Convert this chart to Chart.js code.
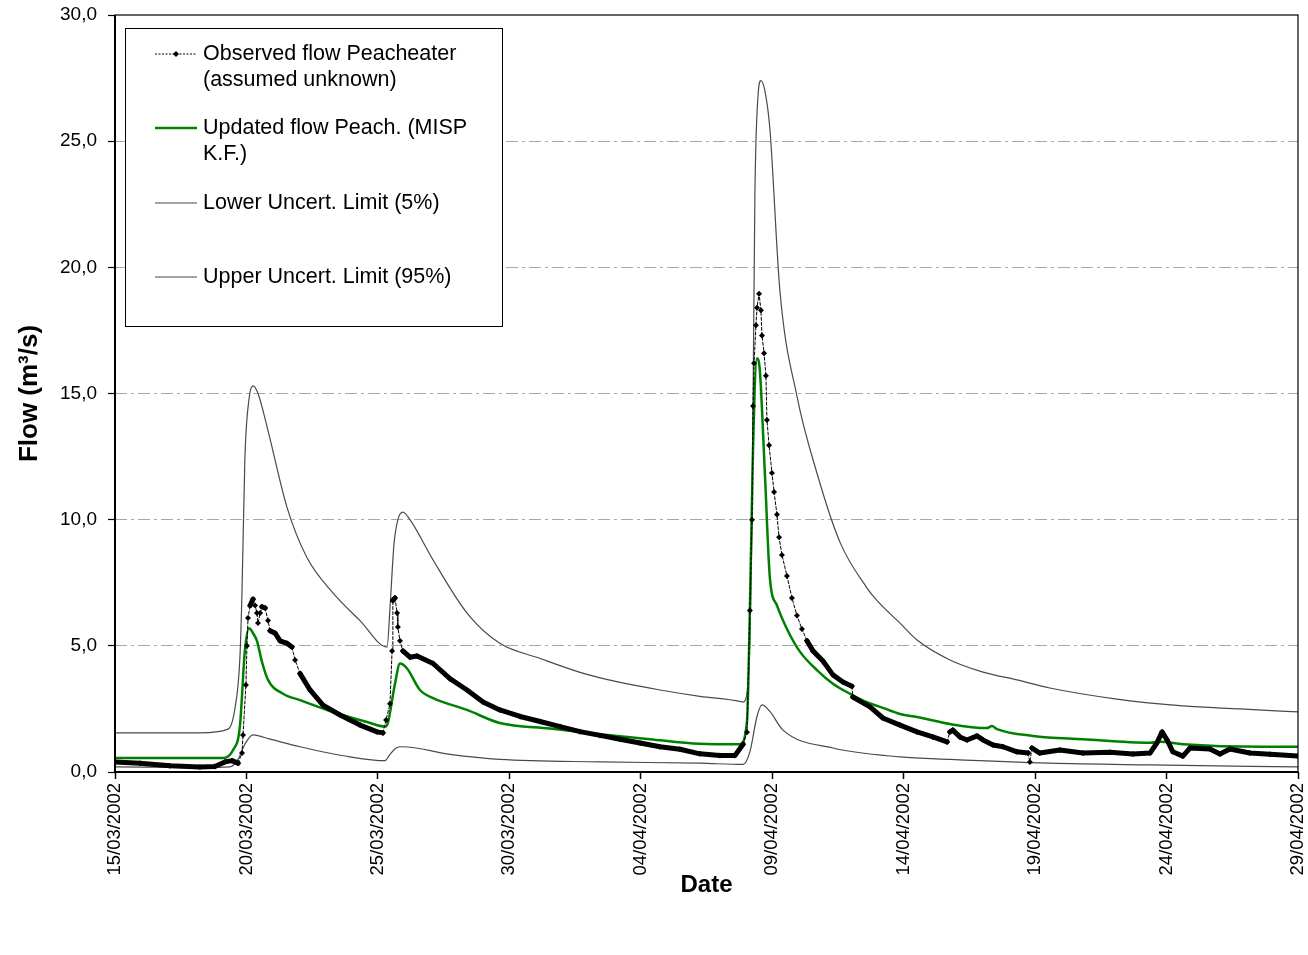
<!DOCTYPE html>
<html><head><meta charset="utf-8">
<script src="https://cdn.jsdelivr.net/npm/chart.js@4.4.1/dist/chart.umd.min.js"></script>
<style>html,body{margin:0;padding:0;background:#fff}#wrap{width:1308px;height:955px;position:relative}</style>
</head><body><div id="wrap"><canvas id="c" width="1308" height="955"></canvas></div>
<script>
// X axis: days since 15/03/2002
const xTickDays = [0,5,10,15,20,25,30,35,40,45];
const xTickLabels = ['15/03/2002','20/03/2002','25/03/2002','30/03/2002','04/04/2002','09/04/2002','14/04/2002','19/04/2002','24/04/2002','29/04/2002'];
const yTickLabels = ['0,0','5,0','10,0','15,0','20,0','25,0','30,0'];

const seriesLabels = ['Observed flow Peacheater\n(assumed unknown)','Updated flow Peach. (MISP\nK.F.)','Lower Uncert. Limit (5%)','Upper Uncert. Limit (95%)'];

const obsDays = [0,0.95,2.09,3.23,3.80,4.18,4.45,4.68,4.83,4.87,4.98,5.02,5.06,5.14,5.25,5.33,5.40,5.44,5.52,5.59,5.71,5.82,5.90,6.09,6.28,6.54,6.73,6.85,7.04,7.42,7.91,8.56,9.32,9.97,10.19,10.31,10.46,10.54,10.57,10.65,10.73,10.76,10.84,10.95,11.22,11.49,12.10,12.74,13.39,14.00,14.64,15.41,16.17,16.93,17.69,18.45,19.21,19.97,20.73,21.49,22.25,23.01,23.58,23.89,24.04,24.15,24.23,24.27,24.31,24.38,24.42,24.50,24.57,24.61,24.69,24.76,24.80,24.88,24.99,25.07,25.18,25.26,25.37,25.56,25.75,25.94,26.13,26.32,26.55,26.93,27.31,27.69,28.03,28.07,28.72,29.21,29.86,30.51,31.11,31.65,31.76,31.87,32.14,32.41,32.79,33.02,33.40,33.78,34.31,34.73,34.80,34.88,35.18,35.94,36.82,37.85,38.72,39.37,39.63,39.83,40.02,40.24,40.62,40.89,41.65,42.03,42.41,43.17,43.93,45];
const obsFlow = [0.40,0.35,0.25,0.20,0.22,0.40,0.45,0.35,0.75,1.47,3.45,5.00,6.10,6.60,6.85,6.60,6.30,5.90,6.30,6.55,6.50,6.00,5.60,5.50,5.20,5.10,4.95,4.44,3.90,3.25,2.65,2.26,1.86,1.59,1.55,2.06,2.70,4.80,6.80,6.90,6.30,5.75,5.20,4.80,4.55,4.60,4.30,3.70,3.25,2.77,2.46,2.20,2.00,1.80,1.60,1.45,1.30,1.15,1.00,0.90,0.72,0.65,0.65,1.10,1.58,6.40,10.0,14.5,16.2,17.7,18.4,18.95,18.3,17.3,16.6,15.7,13.95,12.95,11.85,11.1,10.2,9.3,8.6,7.77,6.9,6.2,5.67,5.2,4.8,4.4,3.85,3.57,3.40,2.97,2.58,2.14,1.86,1.59,1.39,1.19,1.59,1.66,1.39,1.27,1.43,1.27,1.07,1.00,0.80,0.75,0.40,0.95,0.75,0.87,0.75,0.78,0.71,0.75,1.15,1.59,1.27,0.80,0.63,0.95,0.91,0.71,0.91,0.75,0.70,0.63];

const updDays = [0,4.11,4.49,4.75,4.94,5.10,5.25,5.40,5.59,5.82,6.39,7.04,8.29,9.59,10.27,10.38,10.65,10.84,11.11,11.60,12.10,13.39,14.64,16.55,18.45,20.35,22.25,23.77,24.04,24.15,24.27,24.42,24.53,24.72,24.91,25.18,25.56,26.06,26.70,27.31,27.96,28.60,29.21,29.86,30.51,31.76,33.17,33.36,33.55,34.92,36.82,39.37,39.75,40.62,43.67,45];
const updFlow = [0.55,0.55,0.87,1.80,4.80,5.70,5.50,5.20,4.37,3.65,3.10,2.85,2.38,1.98,1.80,1.95,3.50,4.30,4.10,3.25,2.93,2.46,1.94,1.72,1.50,1.30,1.12,1.10,2.00,6.40,12.8,16.4,15.9,11.85,7.7,6.6,5.67,4.76,4.04,3.50,3.10,2.77,2.54,2.30,2.18,1.90,1.74,1.82,1.70,1.43,1.30,1.16,1.20,1.10,1.00,1.00];

const lowDays = [0,3.23,4.37,4.68,4.94,5.25,5.90,7.04,8.94,10.27,10.46,10.69,10.92,12.74,14.64,18.45,22.25,23.89,24.15,24.42,24.61,24.91,25.41,27.31,29.86,31.76,35.56,39.37,45];
const lowFlow = [0.20,0.18,0.20,0.50,1.10,1.47,1.30,1.00,0.60,0.45,0.70,0.95,1.00,0.70,0.50,0.40,0.35,0.30,0.80,2.20,2.66,2.40,1.66,0.95,0.60,0.50,0.35,0.28,0.20];

const uppDays = [0,3.23,4.30,4.56,4.75,4.83,4.94,5.10,5.25,5.44,5.78,6.54,7.30,8.29,9.32,10.35,10.46,10.61,10.76,10.95,11.22,12.10,13.39,14.64,16.17,17.69,19.21,20.73,22.25,23.77,23.89,24.08,24.23,24.34,24.46,24.57,24.72,24.91,25.29,25.94,26.70,27.58,28.60,28.98,29.86,30.51,31.76,33.02,34.31,35.56,38.11,40.62,42.79,45];
const uppFlow = [1.55,1.55,1.70,2.50,4.50,7.10,12.4,14.8,15.3,15.0,13.7,10.5,8.5,7.1,6.0,4.95,6.5,9.0,10.0,10.3,10.0,8.4,6.3,5.1,4.5,3.95,3.55,3.25,3.0,2.8,2.77,3.5,10.0,22.8,26.8,27.4,27.0,25.5,19.1,14.9,11.85,9.1,7.3,6.8,5.9,5.23,4.44,3.96,3.65,3.33,2.89,2.62,2.50,2.38];

const zip = (xs, ys) => xs.map((x, i) => ({x, y: ys[i]}));
const FONT = "'Liberation Sans', Arial, sans-serif";

const steep = ctx => {
  const dx = Math.abs(ctx.p1.x - ctx.p0.x), dy = Math.abs(ctx.p1.y - ctx.p0.y);
  return dy > 2.2 * dx;
};

const frameAndLegend = {
  id: 'frameAndLegend',
  afterDatasetsDraw(chart) {
    const {ctx, chartArea: a} = chart;
    ctx.save();
    ctx.strokeStyle = '#000';
    ctx.lineWidth = 1.2;
    ctx.strokeRect(a.left, a.top, a.right - a.left, a.bottom - a.top);
    ctx.lineWidth = 2;
    ctx.beginPath();
    ctx.moveTo(a.left, a.top); ctx.lineTo(a.left, a.bottom); ctx.lineTo(a.right, a.bottom);
    ctx.stroke();
    const bx = 125, by = 28, bw = 377, bh = 298;
    ctx.fillStyle = '#fff';
    ctx.fillRect(bx, by, bw, bh);
    ctx.lineWidth = 1;
    ctx.strokeStyle = '#000';
    ctx.strokeRect(bx + 0.5, by + 0.5, bw, bh);
    const rowsY = [54, 128, 203, 277];
    const lh = 26;
    ctx.font = '21.5px ' + FONT;
    ctx.textBaseline = 'middle';
    ctx.textAlign = 'left';
    chart.data.datasets.forEach((ds, i) => {
      const y = rowsY[i];
      ctx.save();
      ctx.strokeStyle = ds.borderColor;
      ctx.lineWidth = i === 1 ? 2.5 : 1.2;
      if (i === 0) { ctx.lineWidth = 1; ctx.setLineDash([2, 1.5]); }
      ctx.beginPath(); ctx.moveTo(155, y); ctx.lineTo(197, y); ctx.stroke();
      ctx.restore();
      if (i === 0) {
        ctx.fillStyle = '#000';
        ctx.beginPath();
        ctx.moveTo(176, y - 3); ctx.lineTo(179, y); ctx.lineTo(176, y + 3); ctx.lineTo(173, y);
        ctx.closePath(); ctx.fill();
      }
      ctx.fillStyle = '#000';
      ds.label.split('\n').forEach((t, k) => ctx.fillText(t, 203, y + k * lh));
    });
    ctx.restore();
  }
};

new Chart(document.getElementById('c'), {
  type: 'line',
  data: {
    datasets: [
      {
        label: seriesLabels[0], data: zip(obsDays, obsFlow),
        borderColor: '#000', backgroundColor: '#000', borderWidth: 1,
        pointStyle: 'rectRot', pointRadius: 3, pointBorderWidth: 0, pointBackgroundColor: '#000',
        borderJoinStyle: 'round', borderCapStyle: 'round', borderDash: [],
        segment: {
          borderWidth: ctx => steep(ctx) ? 1 : 5,
          borderDash: ctx => steep(ctx) ? [3, 2] : []
        }
      },
      {
        label: seriesLabels[1], data: zip(updDays, updFlow),
        borderColor: '#008000', borderWidth: 2.5, pointRadius: 0, cubicInterpolationMode: 'monotone'
      },
      {
        label: seriesLabels[2], data: zip(lowDays, lowFlow),
        borderColor: '#4a4a4a', borderWidth: 1.2, pointRadius: 0, cubicInterpolationMode: 'monotone'
      },
      {
        label: seriesLabels[3], data: zip(uppDays, uppFlow),
        borderColor: '#4a4a4a', borderWidth: 1.2, pointRadius: 0, cubicInterpolationMode: 'monotone'
      }
    ]
  },
  options: {
    responsive: false, animation: false, devicePixelRatio: 1,
    layout: {padding: {top: 15, right: 10, left: 0, bottom: 0}},
    plugins: {legend: {display: false}, tooltip: {enabled: false}},
    scales: {
      x: {
        type: 'linear', min: 0, max: 45,
        afterBuildTicks: s => { s.ticks = xTickDays.map(v => ({value: v})); },
        afterFit: s => { s.height = 183; s.paddingLeft = 0; s.paddingRight = 0; },
        ticks: {
          autoSkip: false, minRotation: 90, maxRotation: 90, padding: 4,
          color: '#000', font: {family: FONT, size: 18.5},
          callback: (v, i) => xTickLabels[i]
        },
        grid: {drawOnChartArea: false, tickLength: 7, tickColor: '#000', tickWidth: 1.5},
        border: {display: false},
        title: {display: true, text: 'Date', color: '#000', font: {family: FONT, size: 24, weight: 'bold'}, padding: {top: 0, bottom: 55}}
      },
      y: {
        min: 0, max: 30,
        afterFit: s => { s.width = 115; s.paddingTop = 0; s.paddingBottom = 0; },
        ticks: {
          stepSize: 5, padding: 11, color: '#000', font: {family: FONT, size: 19},
          callback: (v, i) => yTickLabels[i]
        },
        grid: {
          color: c => (c.tick && (c.tick.value === 0 || c.tick.value === 30)) ? 'rgba(0,0,0,0)' : '#a8a8a8',
          lineWidth: 1, tickLength: 7, tickColor: '#000', tickWidth: 1.2
        },
        border: {display: false, dash: [12, 4, 3, 4]},
        title: {display: true, text: 'Flow (m³/s)', color: '#000', font: {family: FONT, size: 26, weight: 'bold'}, padding: {top: 14, bottom: 0}}
      }
    }
  },
  plugins: [frameAndLegend]
});
</script></body></html>
